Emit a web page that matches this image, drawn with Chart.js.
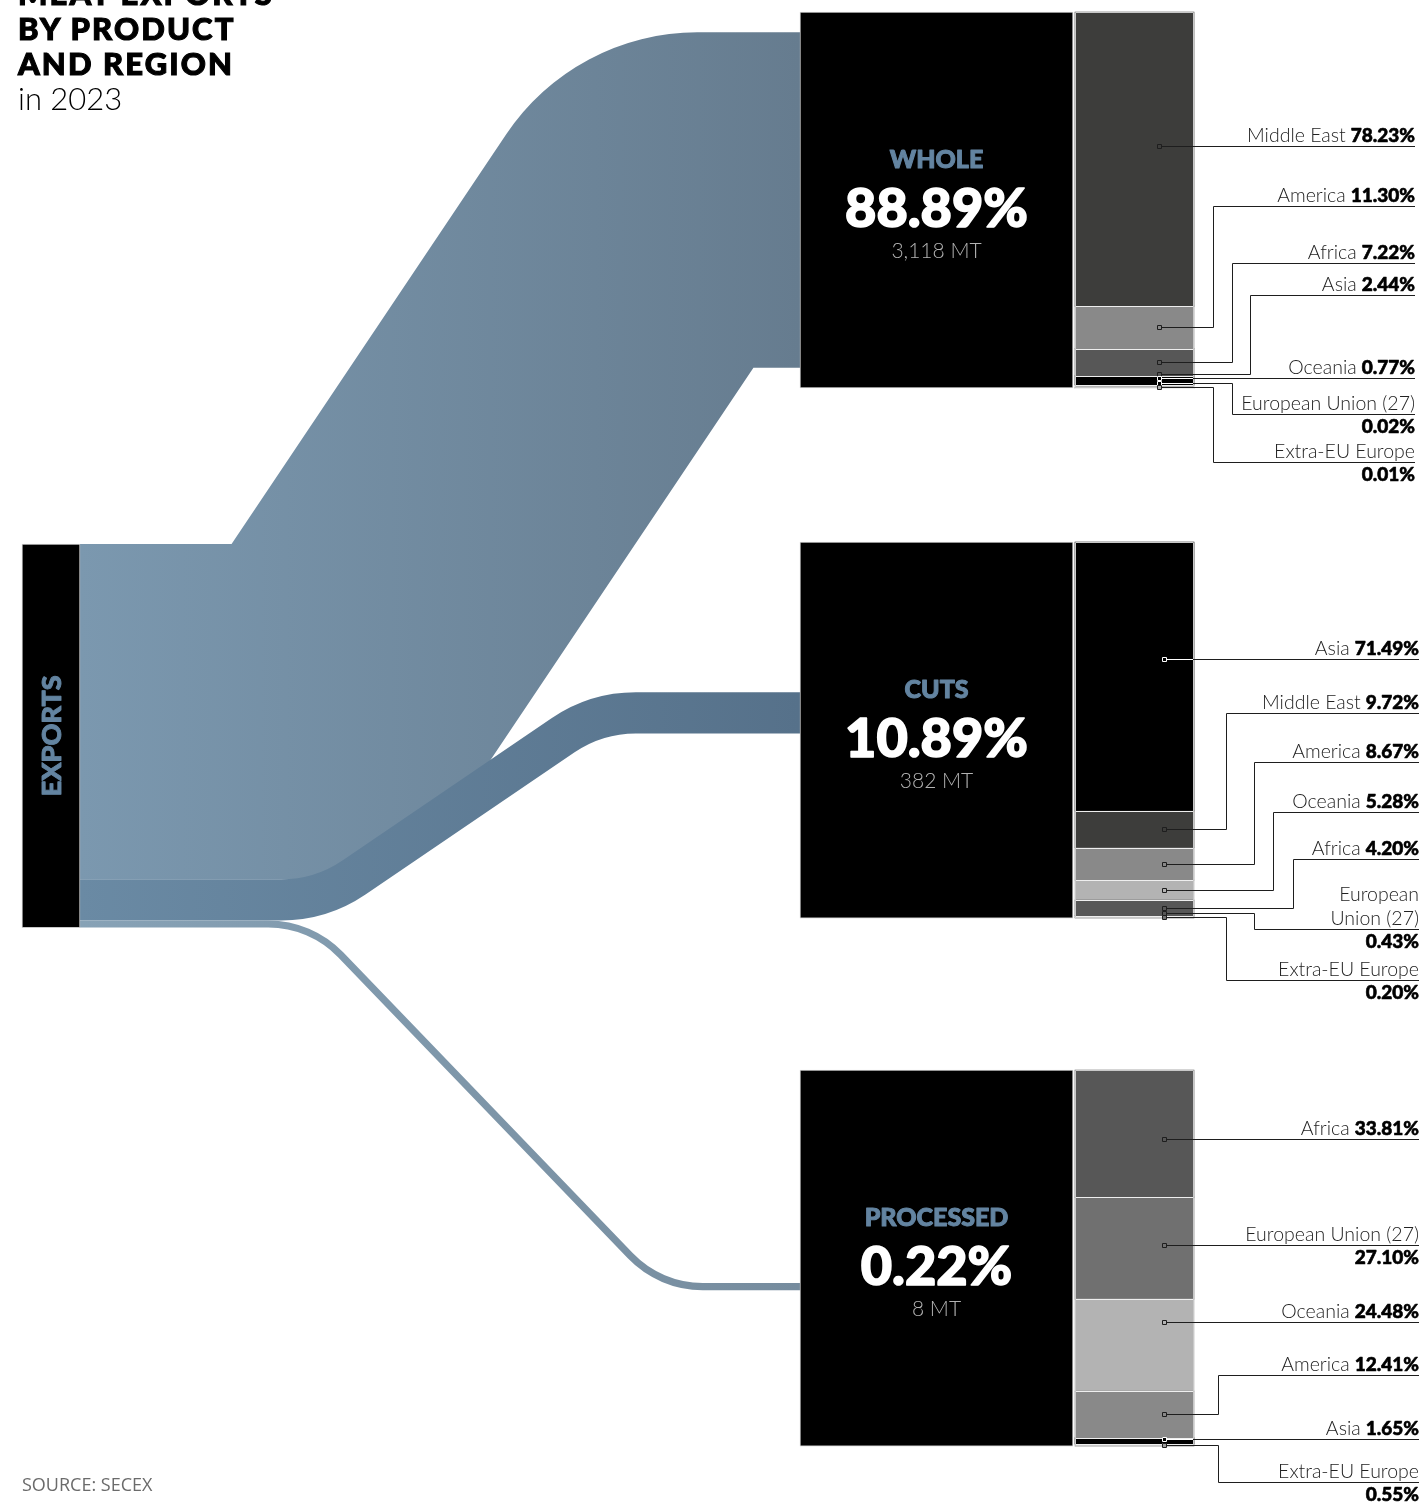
<!DOCTYPE html>
<html>
<head>
<meta charset="utf-8">
<title>Meat exports by product and region in 2023</title>
<script src="https://cdn.jsdelivr.net/npm/chart.js@4.4.1/dist/chart.umd.min.js"></script>
<style>
  html, body { margin: 0; padding: 0; background: #fff; }
  #wrap { position: relative; width: 1423px; height: 1507px; overflow: hidden; }
  #chart { position: absolute; left: 0; top: 0; }
  .title { position: absolute; left: 18px; top: -24px; font-family: Lato, 'Noto Sans', sans-serif; color: #000; }
  .title .bold { font-weight: 900; font-size: 31px; line-height: 35px; letter-spacing: 2.1px; -webkit-text-stroke: 1.1px #000; }
  .title .year { font-weight: 300; font-size: 31px; line-height: 35px; }
  .source { position: absolute; left: 22px; top: 1472px; font: 400 18px 'Open Sans', sans-serif; color: #6b6b6b; }
</style>
</head>
<body>
<div id="wrap">
  <canvas id="chart" width="1423" height="1507"></canvas>
  <div class="title">
    <div class="bold">MEAT EXPORTS</div>
    <div class="bold">BY PRODUCT</div>
    <div class="bold">AND REGION</div>
    <div class="year">in 2023</div>
  </div>
  <div class="source">SOURCE: SECEX</div>
</div>
<script>
// Share of exports by product (%) and volume (MT)
const products = ['WHOLE', 'CUTS', 'PROCESSED'];
const productShares = [88.89, 10.89, 0.22];
const productVolumes = [3118, 382, 8];

// Destination split inside each product (%)
const wholeRegions = ['Middle East', 'America', 'Africa', 'Asia', 'Oceania', 'European Union (27)', 'Extra-EU Europe'];
const wholeValues = [78.23, 11.30, 7.22, 2.44, 0.77, 0.02, 0.01];

const cutsRegions = ['Asia', 'Middle East', 'America', 'Oceania', 'Africa', 'European Union (27)', 'Extra-EU Europe'];
const cutsValues = [71.49, 9.72, 8.67, 5.28, 4.20, 0.43, 0.20];

const processedRegions = ['Africa', 'European Union (27)', 'Oceania', 'America', 'Asia', 'Extra-EU Europe'];
const processedValues = [33.81, 27.10, 24.48, 12.41, 1.65, 0.55];

const allRegions = ['Middle East', 'America', 'Africa', 'Asia', 'Oceania', 'European Union (27)', 'Extra-EU Europe'];
const productRegions = [wholeRegions, cutsRegions, processedRegions];
const productValues = [wholeValues, cutsValues, processedValues];

// Layout (y in "percent of a block" units, x in pixels)
const BLOCK_TOP = [0, 141, 281.4];
const EXPORTS_TOP = 141.5;
const EXPORTS_SPAN = 102;
const EXPORTS_X = 51, EXPORTS_W = 58;
const BOX_X = 936.5, BOX_W = 273;
const STACK_X = 1134.5, STACK_W = 119;
const FLOW_MIN = 1.9;
const FLOW_ANCHOR = [0.5, 0.454, 0.576];
const FLOW_BEND = [[321, 664], [321, 596], [311, 660]];
const FLOW_RADIUS = [230, 150, 104];
const FLOW_COLORS = [['#7b98af', '#667c8f'], ['#6a8aa4', '#56718a'], ['#87a2b6', '#768c9e']];
const REGION_COLORS = {
    'Middle East': '#3d3d3b',
    'America': '#898989',
    'Africa': '#575757',
    'Asia': '#000000',
    'Oceania': '#b3b3b3',
    'European Union (27)': '#707070',
    'Extra-EU Europe': '#9e9e9e'
};
const ACCENT = '#6384a1';
const MARKER_X = [1159, 1164, 1164];
const LABEL_RIGHT = [1415, 1419, 1419];
const LABEL_LAYOUT = [
    [
        { y: 146 },
        { y: 206, elbow: 1213 },
        { y: 263, elbow: 1232 },
        { y: 295, elbow: 1250 },
        { y: 378 },
        { y: 414, elbow: 1232, mode: 'below' },
        { y: 462, elbow: 1213, mode: 'below' }
    ],
    [
        { y: 659 },
        { y: 713, elbow: 1226 },
        { y: 762, elbow: 1254 },
        { y: 812, elbow: 1273 },
        { y: 859, elbow: 1293 },
        { y: 929, elbow: 1254, mode: 'below', lines: ['European', 'Union (27)'] },
        { y: 980, elbow: 1226, mode: 'below' }
    ],
    [
        { y: 1139 },
        { y: 1245, mode: 'below' },
        { y: 1322 },
        { y: 1375, elbow: 1218 },
        { y: 1439 },
        { y: 1482, elbow: 1218, mode: 'below' }
    ]
];
const HEAVY = '"Lato", "Noto Sans", sans-serif';
const NAME_FONT = '300 19.5px Lato, "Noto Sans", sans-serif';
const VALUE_FONT = '900 19px ' + HEAVY;

const sum = arr => arr.reduce((a, b) => a + b, 0);

// Heavy text: fill plus a thin stroke of the same colour
function heavyText(ctx, text, x, y, color, stroke) {
    ctx.fillStyle = color;
    ctx.fillText(text, x, y);
    ctx.strokeStyle = color;
    ctx.lineWidth = stroke;
    ctx.lineJoin = 'round';
    ctx.strokeText(text, x, y);
}

// One floating bar per region and product
function segment(p, region) {
    const idx = productRegions[p].indexOf(region);
    if (idx < 0) return null;
    const start = BLOCK_TOP[p] + sum(productValues[p].slice(0, idx));
    return { x: STACK_X, y: [start, start + productValues[p][idx]] };
}

const regionDatasets = allRegions.map(r => ({
    label: r,
    data: products.map((_, p) => segment(p, r)).filter(Boolean),
    backgroundColor: REGION_COLORS[r],
    barThickness: STACK_W
}));

// Rounded band from the exports box to each product box
function drawFlow(ctx, x0, x1, s0, s1, d0, d1, bend, R, colors) {
    const w = s1 - s0, h = w / 2;
    const sc = (s0 + s1) / 2, dc = (d0 + d1) / 2;
    const dx = bend[1] - bend[0], dy = dc - sc;
    const len = Math.hypot(dx, dy);
    const ux = dx / len, uy = dy / len;
    const nx = uy, ny = -ux; // normal toward the top edge
    const xAt = (px, py, Y) => px + (Y - py) / uy * ux;
    const tx = bend[0] + h * nx, ty = sc + h * ny;
    const bx = bend[0] - h * nx, by = sc - h * ny;
    const T1 = [xAt(tx, ty, s0), s0], T2 = [xAt(tx, ty, d0), d0];
    const B1 = [xAt(bx, by, s1), s1], B2 = [xAt(bx, by, d1), d1];
    const up = dc < sc;
    const rIn = Math.max(0, R - w);
    const grad = ctx.createLinearGradient(x0, 0, x1, 0);
    grad.addColorStop(0, colors[0]);
    grad.addColorStop(1, colors[1]);
    ctx.beginPath();
    ctx.moveTo(x0, s0);
    ctx.arcTo(T1[0], T1[1], T2[0], T2[1], up ? rIn : R);
    ctx.arcTo(T2[0], T2[1], x1, d0, up ? R : rIn);
    ctx.lineTo(x1, d0);
    ctx.lineTo(x1, d1);
    ctx.arcTo(B2[0], B2[1], B1[0], B1[1], up ? rIn : R);
    ctx.arcTo(B1[0], B1[1], x0, s1, up ? R : rIn);
    ctx.lineTo(x0, s1);
    ctx.closePath();
    ctx.fillStyle = grad;
    ctx.fill();
}

const flowPlugin = {
    id: 'flows',
    beforeDatasetsDraw(chart) {
        const ctx = chart.ctx, y = chart.scales.y;
        const src = chart.getDatasetMeta(0).data[0];
        const boxes = chart.getDatasetMeta(1).data;
        const x0 = src.x + src.width / 2;
        const weights = productShares.map(s => Math.max(s, FLOW_MIN));
        const total = sum(weights);
        let cum = EXPORTS_TOP;
        ctx.save();
        products.forEach((p, i) => {
            const span = weights[i] / total * EXPORTS_SPAN;
            const mid = BLOCK_TOP[i] + FLOW_ANCHOR[i] * 100;
            const x1 = boxes[i].x - boxes[i].width / 2;
            drawFlow(ctx, x0, x1,
                y.getPixelForValue(cum), y.getPixelForValue(cum + span),
                y.getPixelForValue(mid - span / 2), y.getPixelForValue(mid + span / 2),
                FLOW_BEND[i], FLOW_RADIUS[i], FLOW_COLORS[i]);
            cum += span;
        });
        ctx.restore();
    }
};

const labelPlugin = {
    id: 'labels',
    afterDatasetsDraw(chart) {
        const ctx = chart.ctx, y = chart.scales.y, x = chart.scales.x;
        const boxes = chart.getDatasetMeta(1).data;
        const src = chart.getDatasetMeta(0).data[0];
        const sx = x.getPixelForValue(STACK_X);
        const stackL = sx - STACK_W / 2, stackR = sx + STACK_W / 2;
        ctx.save();

        // Exports label
        ctx.save();
        ctx.translate(src.x, (src.y + src.base) / 2);
        ctx.rotate(-Math.PI / 2);
        ctx.font = '900 27px ' + HEAVY;
        ctx.textAlign = 'center';
        ctx.textBaseline = 'middle';
        heavyText(ctx, 'EXPORTS', 0, 1, ACCENT, 0.9);
        ctx.restore();

        products.forEach((name, p) => {
            const values = productValues[p];
            const regions = productRegions[p];
            const topPx = y.getPixelForValue(BLOCK_TOP[p]);
            const botPx = y.getPixelForValue(BLOCK_TOP[p] + 100);

            // Box texts
            const c = (topPx + botPx) / 2, bx = boxes[p].x;
            ctx.textAlign = 'center';
            ctx.textBaseline = 'alphabetic';
            ctx.font = '900 25px ' + HEAVY;
            heavyText(ctx, name, bx, c - 32, ACCENT, 1);
            ctx.font = '900 54px ' + HEAVY;
            heavyText(ctx, productShares[p].toFixed(2) + '%', bx, c + 27, '#ffffff', 1.6);
            ctx.fillStyle = '#b3b3b3';
            ctx.font = '300 21px Lato, "Noto Sans", sans-serif';
            ctx.fillText(productVolumes[p].toLocaleString('en-US') + ' MT', bx, c + 58);

            // Segment geometry
            let acc = BLOCK_TOP[p];
            const segs = values.map((v, k) => {
                const t = y.getPixelForValue(acc), b = y.getPixelForValue(acc + v);
                acc += v;
                return { top: t, bot: b, mid: (t + b) / 2, color: REGION_COLORS[regions[k]] };
            });

            // Separators and outline
            ctx.strokeStyle = '#eeeeee';
            ctx.lineWidth = 1;
            segs.slice(1).forEach(s => {
                const yy = Math.round(s.top) + 0.5;
                ctx.beginPath();
                ctx.moveTo(stackL, yy);
                ctx.lineTo(stackR, yy);
                ctx.stroke();
            });
            ctx.strokeStyle = '#c8c8c8';
            ctx.strokeRect(Math.round(stackL) + 0.5, Math.round(topPx) + 0.5, STACK_W - 1, Math.round(botPx - topPx) - 1);

            // Marker positions, spread upward so small segments stay apart
            const lay = LABEL_LAYOUT[p];
            const my = new Array(values.length);
            let limit = botPx - 1.5;
            for (let k = values.length - 1; k >= 0; k--) {
                const s = segs[k];
                let v = lay[k].elbow ? s.mid : Math.min(Math.max(lay[k].y, s.top), s.bot);
                v = Math.min(v, limit);
                if (!lay[k].elbow && Math.abs(v - lay[k].y) < 3) v = lay[k].y;
                my[k] = v;
                limit = v - 4;
            }

            const mx = MARKER_X[p], right = LABEL_RIGHT[p];
            values.forEach((v, k) => {
                const L = lay[k];
                const ly = Math.round(L.y) + 0.5;
                const yy = Math.round(my[k]) + 0.5;
                const under = segs.find(s => my[k] >= s.top - 0.5 && my[k] <= s.bot + 0.5) || segs[k];
                const onBlack = under.color === '#000000';

                // Leader line
                ctx.strokeStyle = '#1e1e1e';
                ctx.lineWidth = 1;
                ctx.beginPath();
                ctx.moveTo(mx, yy);
                if (L.elbow) {
                    const ex = Math.round(L.elbow) + 0.5;
                    ctx.lineTo(ex, yy);
                    ctx.lineTo(ex, ly);
                } else if (yy !== ly) {
                    ctx.lineTo(stackR + 6, yy);
                    ctx.lineTo(stackR + 6, ly);
                }
                ctx.lineTo(right, ly);
                ctx.stroke();
                if (onBlack) {
                    ctx.strokeStyle = '#ffffff';
                    ctx.beginPath();
                    ctx.moveTo(mx, yy);
                    ctx.lineTo(stackR - 1, yy);
                    ctx.stroke();
                }

                // Marker
                ctx.fillStyle = under.color;
                ctx.strokeStyle = onBlack ? '#ffffff' : '#1e1e1e';
                ctx.fillRect(mx - 2, Math.round(my[k]) - 2, 4, 4);
                ctx.strokeRect(mx - 2 + 0.5, Math.round(my[k]) - 2 + 0.5, 4, 4);

                // Label text
                const val = v.toFixed(2) + '%';
                ctx.textAlign = 'right';
                ctx.textBaseline = 'alphabetic';
                if (L.mode === 'below') {
                    const lines = L.lines || [regions[k]];
                    ctx.font = NAME_FONT;
                    ctx.fillStyle = '#222';
                    lines.forEach((t, j) => ctx.fillText(t, right, L.y - 4 - (lines.length - 1 - j) * 24));
                    ctx.font = VALUE_FONT;
                    heavyText(ctx, val, right, L.y + 19, '#000', 0.6);
                } else {
                    ctx.font = VALUE_FONT;
                    heavyText(ctx, val, right, L.y - 4, '#000', 0.6);
                    const vw = ctx.measureText(val).width;
                    ctx.font = NAME_FONT;
                    ctx.fillStyle = '#222';
                    ctx.fillText(regions[k], right - vw - 5, L.y - 4);
                }
            });
        });
        ctx.restore();
    }
};

new Chart(document.getElementById('chart'), {
    type: 'bar',
    data: {
        datasets: [
            {
                label: 'Exports',
                data: [{ x: EXPORTS_X, y: [EXPORTS_TOP, EXPORTS_TOP + EXPORTS_SPAN] }],
                backgroundColor: '#000',
                borderColor: '#c8c8c8',
                borderWidth: 1,
                borderSkipped: false,
                barThickness: EXPORTS_W
            },
            {
                label: 'Products',
                data: products.map((p, i) => ({ x: BOX_X, y: [BLOCK_TOP[i], BLOCK_TOP[i] + 100] })),
                backgroundColor: '#000',
                borderColor: '#c8c8c8',
                borderWidth: 1,
                borderSkipped: false,
                barThickness: BOX_W
            },
            ...regionDatasets
        ]
    },
    options: {
        responsive: false,
        animation: false,
        events: [],
        layout: { padding: 0 },
        datasets: { bar: { grouped: false } },
        scales: {
            x: { type: 'linear', min: 0, max: 1423, offset: false, display: false },
            y: { type: 'linear', min: -12 / 3.76, max: -12 / 3.76 + 1507 / 3.76, reverse: true, offset: false, display: false }
        },
        plugins: {
            legend: { display: false },
            tooltip: { enabled: false }
        }
    },
    plugins: [flowPlugin, labelPlugin]
});
</script>
</body>
</html>
